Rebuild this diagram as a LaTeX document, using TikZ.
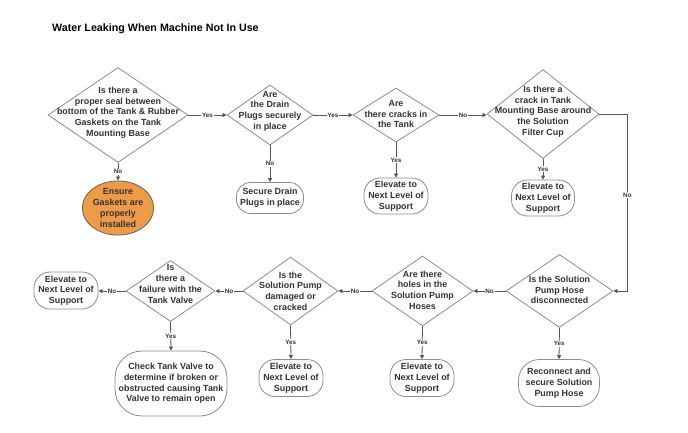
\documentclass[tikz,border=0pt]{standalone}
\usepackage{fontspec}
\setmainfont{Liberation Sans}
\usetikzlibrary{shapes.geometric,arrows.meta}
\definecolor{txtc}{HTML}{333333}
\definecolor{edgec}{HTML}{555555}
\definecolor{bordc}{HTML}{8C8C8C}
\definecolor{orng}{HTML}{EE9B48}
\begin{document}
\begin{tikzpicture}[x=1pt,y=-1pt,
  dia/.style={diamond,draw=bordc,line width=0.8pt,inner sep=0pt,fill=white},
  lbl/.style={font=\bfseries\fontsize{8.9}{10.7}\selectfont,text=txtc,align=center,inner sep=0pt},
  term/.style={draw=bordc,line width=0.8pt,fill=white,font=\bfseries\fontsize{8.9}{10.7}\selectfont,text=txtc,align=center,inner sep=0pt},
  conn/.style={draw=edgec,line width=0.8pt,-{Triangle[length=4pt,width=4pt]}},
  yn/.style={font=\bfseries\fontsize{6.3}{7}\selectfont,text=txtc,fill=white,inner sep=0.8pt}
]
\fill[white] (0,0) rectangle (688,432);
\useasboundingbox (0,0) rectangle (688,432);

\node[anchor=west,inner sep=0pt,font=\bfseries\fontsize{10.7}{13}\selectfont] (title) at (52,28.5) {Water Leaking When Machine Not In Use};

% row 1 diamonds
\node[dia,minimum width=140,minimum height=95] (d1) at (118,115) {};
\node[lbl] (d1t) at (118,112.5) {Is there a\\proper seal between\\bottom of the Tank \& Rubber\\Gaskets on the Tank\\Mounting Base};
\node[dia,minimum width=86,minimum height=60] (d2) at (270,115) {};
\node[lbl] (d2t) at (270,111) {Are\\the Drain\\Plugs securely\\in place};
\node[dia,minimum width=86,minimum height=54] (d3) at (396,115) {};
\node[lbl] (d3t) at (396,114) {Are\\there cracks in\\the Tank};
\node[dia,minimum width=112,minimum height=89] (d4) at (543,114) {};
\node[lbl] (d4t) at (543,111.5) {Is there a\\crack in Tank\\Mounting Base around\\the Solution\\Filter Cup};

% row 1 results
\node[ellipse,draw=bordc!70!black,line width=0.8pt,fill=orng,minimum width=64,minimum height=48,inner sep=0pt,font=\bfseries\fontsize{8.9}{10.7}\selectfont,text=txtc,align=center] (e1) at (118,208) {Ensure\\Gaskets are\\properly\\installed};
\node[term,minimum width=67,minimum height=31,rounded corners=14pt] (b2) at (270,198) {Secure Drain\\Plugs in place};
\node[term,minimum width=64,minimum height=36,rounded corners=16pt] (b3) at (396,196) {Elevate to\\Next Level of\\Support};
\node[term,minimum width=63,minimum height=36,rounded corners=16pt] (b4) at (543,198) {Elevate to\\Next Level of\\Support};

% row 2 diamonds
\node[dia,minimum width=107,minimum height=73] (d5) at (559.5,291) {};
\node[lbl] (d5t) at (559.5,290) {Is the Solution\\Pump Hose\\disconnected};
\node[dia,minimum width=101,minimum height=70] (d6) at (422.5,291) {};
\node[lbl] (d6t) at (422.5,290) {Are there\\holes in the\\Solution Pump\\Hoses};
\node[dia,minimum width=95,minimum height=68] (d7) at (290.5,291) {};
\node[lbl] (d7t) at (290.5,291) {Is the\\Solution Pump\\damaged or\\cracked};
\node[dia,minimum width=89,minimum height=61] (d8) at (170.5,291) {};
\node[lbl] (d8t) at (170.5,284) {Is\\there a\\failure with the\\Tank Valve};

% row 2 results
\node[term,minimum width=81,minimum height=47,rounded corners=21pt] (b5) at (559,383) {Reconnect and\\secure Solution\\Pump Hose};
\node[term,minimum width=64,minimum height=37,rounded corners=16pt] (b6) at (422,378) {Elevate to\\Next Level of\\Support};
\node[term,minimum width=64,minimum height=37,rounded corners=16pt] (b7) at (291,378) {Elevate to\\Next Level of\\Support};
\node[term,minimum width=112,minimum height=65,rounded corners=27pt] (b8c) at (171,383.5) {Check Tank Valve to\\determine if broken or\\obstructed causing Tank\\Valve to remain open};
\node[term,minimum width=64,minimum height=37,rounded corners=16pt] (b8) at (66,290.5) {Elevate to\\Next Level of\\Support};

% connectors row 1
\draw[conn] (d1.east) -- node[yn]{Yes} (d2.west);
\draw[conn] (d2.east) -- node[yn]{Yes} (d3.west);
\draw[conn] (d3.east) -- node[yn]{No} (d3.east -| d4.west);
\draw[conn] (d1.south) -- node[yn]{No} (e1.north);
\draw[conn] (d2.south) -- node[yn]{No} (b2.north);
\draw[conn] (d3.south) -- node[yn]{Yes} (b3.north);
\draw[conn] (d4.south) -- node[yn]{Yes} (b4.north);
\draw[conn] (d4.east) -- ++(28,0) |- node[pos=0.23,yn]{No} (d5.east);

% connectors row 2
\draw[conn] (d5.west) -- node[yn]{No} (d6.east);
\draw[conn] (d6.west) -- node[yn]{No} (d7.east);
\draw[conn] (d7.west) -- node[yn]{No} (d8.east);
\draw[conn] (d8.west) -- node[yn]{No} (b8.east |- d8.west);
\draw[conn] (d5.south) -- node[yn]{Yes} (b5.north);
\draw[conn] (d6.south) -- node[yn]{Yes} (b6.north);
\draw[conn] (d7.south) -- node[yn]{Yes} (b7.north);
\draw[conn] (d8.south) -- node[yn]{Yes} (b8c.north);
\end{tikzpicture}
\end{document}
